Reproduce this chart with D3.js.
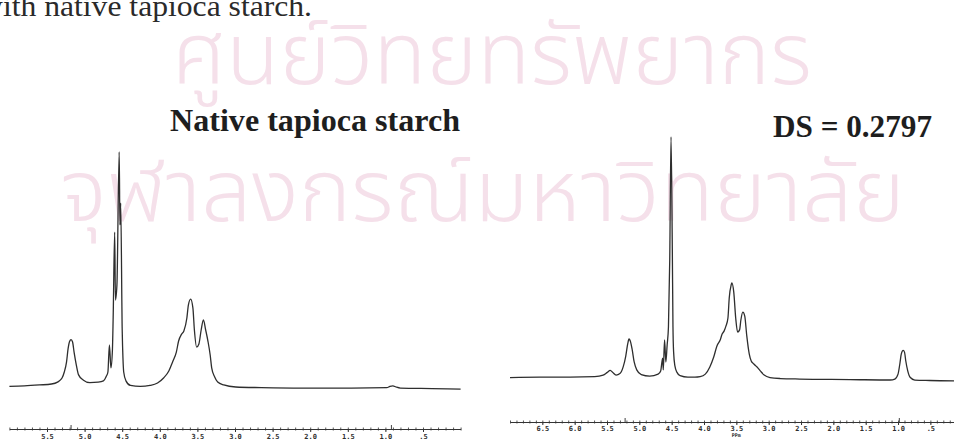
<!DOCTYPE html>
<html>
<head>
<meta charset="utf-8">
<script src="https://cdn.jsdelivr.net/npm/d3@7"></script>
<style>
  html, body { margin: 0; padding: 0; background: #ffffff; overflow: hidden; }
  svg { display: block; }
</style>
</head>
<body>
<svg id="fig" width="954" height="440"></svg>
<script>
// 1H NMR spectra: native tapioca starch and the DS = 0.2797 derivative.
// Chemical shift (ppm) and relative intensity (tallest line = ~100).

const nativePpm = [6.00,5.80,5.60,5.44,5.36,5.30,5.27,5.24,5.22,5.20,5.18,5.16,5.14,5.11,5.08,5.02,4.93,4.82,4.75,4.71,
  4.69,4.67,4.65,4.63,4.62,4.60,4.59,4.57,4.54,4.53,4.52,4.50,4.49,4.48,4.45,4.39,4.26,4.13,4.03,3.95,
  3.88,3.83,3.78,3.75,3.71,3.68,3.64,3.62,3.59,3.56,3.54,3.51,3.48,3.45,3.42,3.39,3.36,3.33,3.31,3.27,
  3.23,3.15,2.99,2.65,2.12,1.45,0.98,0.94,0.90,0.86,0.80,0.38,0.00];
const nativeIntensity = [1.5,1.7,2.1,2.5,3.3,5.0,7.5,11.7,17.1,20.2,21.0,20.0,15.8,10.4,6.3,4.2,3.1,3.3,3.8,5.8,
  7.5,18.8,9.2,16.7,30.4,65.8,37.5,43.8,99.2,68.8,77.9,25.0,13.3,7.5,3.8,1.9,1.5,1.9,2.9,5.0,
  7.9,11.7,15.8,20.4,23.3,24.6,30.0,35.4,37.9,34.2,25.0,17.9,19.2,25.0,29.2,25.0,20.4,14.6,9.2,5.4,
  3.3,2.1,1.25,1.0,0.8,0.8,1.0,1.5,1.7,1.25,0.8,0.6,0.4];

const modifiedPpm = [7.00,6.54,6.07,5.69,5.56,5.50,5.45,5.41,5.36,5.30,5.25,5.21,5.18,5.16,5.14,5.11,5.08,5.04,4.97,4.84,
  4.71,4.67,4.64,4.63,4.61,4.59,4.57,4.55,4.53,4.51,4.49,4.48,4.47,4.45,4.42,4.37,4.25,4.14,4.06,3.98,
  3.91,3.85,3.80,3.75,3.72,3.69,3.66,3.63,3.61,3.58,3.57,3.54,3.51,3.48,3.45,3.43,3.40,3.37,3.34,3.30,
  3.27,3.23,3.18,3.13,3.07,2.98,2.82,2.52,1.74,1.12,1.05,1.00,0.97,0.95,0.92,0.90,0.88,0.85,0.81,0.74,
  0.51,0.00];
const modifiedIntensity = [1.8,2.0,2.0,2.2,2.8,3.8,4.7,3.8,2.8,3.4,6.1,10.5,15.4,17.4,16.6,13.0,8.1,4.9,3.0,2.4,
  3.2,4.5,9.7,4.9,17.0,8.1,15.0,22.3,49.4,99.2,53.4,22.3,12.1,6.5,4.0,2.6,2.0,2.0,2.2,3.2,
  6.1,10.1,14.6,17.0,19.4,20.6,22.7,25.9,34.0,39.3,40.1,36.4,25.9,20.2,21.1,25.1,28.3,26.7,19.0,11.3,
  8.5,7.3,6.1,4.5,2.8,1.8,1.4,1.2,1.0,0.8,1.2,3.2,7.7,11.3,12.8,12.1,8.5,4.5,1.8,0.8,
  0.6,0.4];

// Labelled shift-axis ticks
const nativeTicks = [5.5,5.0,4.5,4.0,3.5,3.0,2.5,2.0,1.5,1.0,0.5];
const nativeTickLabels = ["5.5","5.0","4.5","4.0","3.5","3.0","2.5","2.0","1.5","1.0",".5"];
const modifiedTicks = [6.5,6.0,5.5,5.0,4.5,4.0,3.5,3.0,2.5,2.0,1.5,1.0,0.5];
const modifiedTickLabels = ["6.5","6.0","5.5","5.0","4.5","4.0","3.5","3.0","2.5","2.0","1.5","1.0",".5"];

// Integration marks sitting on the shift axis
const nativeAxisMarks = [5.18, 0.92];
const modifiedAxisMarks = [5.22, 0.98];

const panelTitles = ["Native tapioca starch", "DS = 0.2797"];
const captionText = "with native tapioca starch.";
const watermarkLines = ["ศูนย์วิทยทรัพยากร", "จุฬาลงกรณ์มหาวิทยาลัย"];

const svg = d3.select("#fig");

// ---- faint institutional watermark behind the figure ----
const wmLayout = [
  { x0: 172, x1: 812, base: 84, size: 86 },
  { x0: 60,  x1: 905, base: 221, size: 86 }
];
const wm = svg.append("g")
  .attr("fill", "#f5e0ea")
  .attr("font-weight", 350)
  .style("font-family", "'Noto Sans Thai','Noto Sans Thai Looped','Loma','Garuda','Noto Sans',sans-serif");
watermarkLines.forEach((t, i) => {
  const L = wmLayout[i];
  wm.append("text")
    .attr("x", L.x0).attr("y", L.base)
    .attr("font-size", L.size)
    .attr("textLength", L.x1 - L.x0)
    .attr("lengthAdjust", "spacingAndGlyphs")
    .text(t);
});

// ---- caption fragment at the top edge ----
const serif = "'Liberation Serif','Times New Roman',serif";
const cap = svg.append("text")
  .attr("y", 16)
  .attr("font-family", serif)
  .attr("font-size", 29)
  .attr("fill", "#2a2a2a")
  .text(captionText);
{
  // the text ends at x = 312, its first letter running past the left edge
  const probe = svg.append("text").attr("font-family", serif)
    .attr("font-size", 29).text(captionText.slice(0, 1));
  const firstW = probe.node().getComputedTextLength();
  probe.remove();
  cap.attr("x", -firstW + 1)
     .attr("textLength", 312 + firstW - 1)
     .attr("lengthAdjust", "spacingAndGlyphs");
}

// ---- panel builder ----
function drawPanel(cfg) {
  const x = d3.scaleLinear().domain(cfg.domain).range(cfg.xRange);
  const y = d3.scaleLinear().domain([0, 100]).range([cfg.y0, cfg.y100]);

  const pts = cfg.ppm.map((p, i) => [p, cfg.intensity[i]]);
  const line = d3.line()
    .x(d => x(d[0]))
    .y(d => y(d[1]))
    .curve(d3.curveMonotoneX);

  const g = svg.append("g");
  g.append("path")
    .datum(pts)
    .attr("d", line)
    .attr("fill", "none")
    .attr("stroke", "#2e2e2e")
    .attr("stroke-width", 1.3)
    .attr("stroke-linejoin", "round");

  // shift axis: minor ticks every 0.1 ppm, labelled major ticks every 0.5 ppm
  const ax = g.append("g").attr("transform", `translate(0,${cfg.axisY})`);
  const lo = Math.min(...cfg.domain), hi = Math.max(...cfg.domain);
  const minor = d3.range(Math.ceil(lo * 10), Math.floor(hi * 10) + 1).map(v => v / 10);

  ax.append("g")
    .attr("transform", "translate(0,-1.5)")
    .call(d3.axisBottom(x).tickValues(minor).tickSize(3).tickFormat(""))
    .call(s => s.select(".domain").remove())
    .call(s => s.selectAll("line").attr("stroke", "#444").attr("stroke-width", 0.9));

  ax.append("g")
    .call(d3.axisBottom(x)
      .tickValues(cfg.ticks)
      .tickSize(3)
      .tickSizeOuter(0)
      .tickFormat((d, i) => cfg.tickLabels[i]))
    .call(s => s.select(".domain").attr("stroke", "#333").attr("stroke-width", 1.1))
    .call(s => s.selectAll(".tick line").attr("stroke", "#333").attr("stroke-width", 1))
    .call(s => s.selectAll(".tick text")
      .attr("y", cfg.labelDy)
      .attr("dy", "0.71em")
      .attr("fill", "#2e2e2e")
      .attr("font-family", "'DejaVu Sans Mono',monospace")
      .attr("font-weight", "bold")
      .attr("font-size", 7));

  ax.selectAll(".mark")
    .data(cfg.marks)
    .join("line")
    .attr("class", "mark")
    .attr("x1", d => x(d)).attr("x2", d => x(d))
    .attr("y1", -4).attr("y2", 0)
    .attr("stroke", "#444").attr("stroke-width", 1);

  if (cfg.unit) {
    ax.append("text")
      .attr("x", x(cfg.unit.at))
      .attr("y", cfg.labelDy + 7.5)
      .attr("dy", "0.71em")
      .attr("text-anchor", "middle")
      .attr("fill", "#2e2e2e")
      .attr("font-family", "'DejaVu Sans Mono',monospace")
      .attr("font-weight", "bold")
      .attr("font-size", 5)
      .text(cfg.unit.text);
  }

  svg.append("text")
    .attr("x", cfg.title.x)
    .attr("y", cfg.title.y)
    .attr("font-family", serif)
    .attr("font-weight", "bold")
    .attr("font-size", 32)
    .attr("fill", "#1e1e1e")
    .attr("textLength", cfg.title.w)
    .attr("lengthAdjust", "spacingAndGlyphs")
    .text(cfg.title.text);
}

drawPanel({
  ppm: nativePpm, intensity: nativeIntensity,
  domain: [6.0, 0.0], xRange: [9.4, 460.6],
  y0: 390, y100: 150,
  axisY: 429, labelDy: 5,
  ticks: nativeTicks, tickLabels: nativeTickLabels,
  marks: nativeAxisMarks,
  title: { text: panelTitles[0], x: 170, y: 131, w: 290 }
});

drawPanel({
  ppm: modifiedPpm, intensity: modifiedIntensity,
  domain: [7.0, 0.0], xRange: [510, 962.7],
  y0: 382, y100: 135,
  axisY: 422, labelDy: 4,
  ticks: modifiedTicks, tickLabels: modifiedTickLabels,
  marks: modifiedAxisMarks,
  unit: { text: "PPm", at: 3.5 },
  title: { text: panelTitles[1], x: 773, y: 137, w: 159 }
});
</script>
</body>
</html>
